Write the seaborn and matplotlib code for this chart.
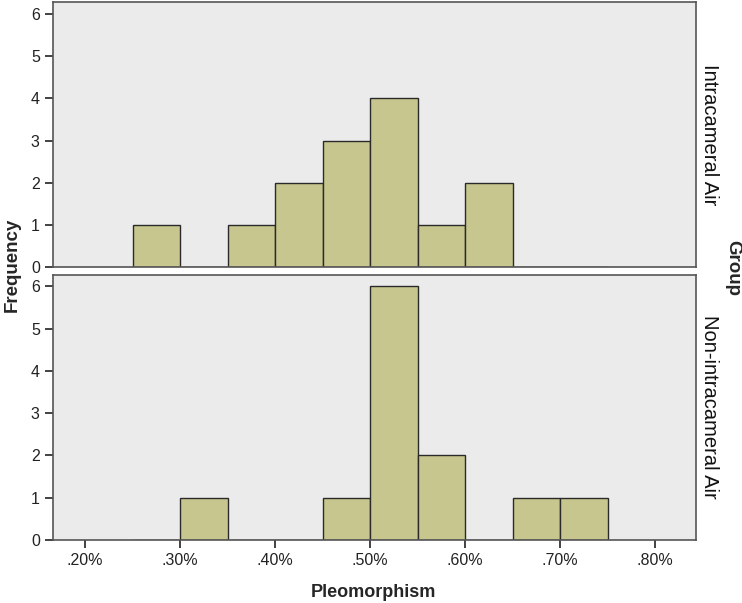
import numpy as np
import pandas as pd
import seaborn as sns
import matplotlib.pyplot as plt
from matplotlib.ticker import FuncFormatter

# histogram bins (Pleomorphism, %) and counts per group
bin_edges = [0.25, 0.30, 0.35, 0.40, 0.45, 0.50, 0.55, 0.60, 0.65, 0.70, 0.75]
counts_intra = [1, 0, 1, 2, 3, 4, 1, 2, 0, 0]
counts_non = [0, 1, 0, 0, 1, 6, 2, 0, 1, 1]
groups = ["Intracameral Air", "Non-intracameral Air"]

mids = [(a + b) / 2 for a, b in zip(bin_edges[:-1], bin_edges[1:])]
df = pd.DataFrame({
    "Pleomorphism": mids * 2,
    "count": counts_intra + counts_non,
    "Group": [groups[0]] * len(mids) + [groups[1]] * len(mids),
})

sns.set_style("ticks", {"axes.facecolor": "#ebebeb"})
plt.rcParams["font.family"] = ["Liberation Sans", "DejaVu Sans"]

g = sns.FacetGrid(df, row="Group", row_order=groups, margin_titles=True,
                  sharex=True, sharey=False, height=3, aspect=2.4)
g.map_dataframe(sns.histplot, x="Pleomorphism", weights="count", bins=bin_edges,
                color="#c6c68e", edgecolor="#2a2a2a", linewidth=1.0, alpha=1)
g.figure.set_size_inches(7.42, 6.03)
g.figure.subplots_adjust(left=0.0714, right=0.938, top=0.9967, bottom=0.1045,
                         hspace=0.027)

fmt = FuncFormatter(lambda v, p: ("%.2f" % v).lstrip("0") + "%")
for i, ax in enumerate(g.axes.flat):
    ax.set_xlim(0.1663, 0.843)
    ax.set_ylim(0, 6.28)
    ax.set_yticks(range(0, 7))
    ax.set_xticks(np.arange(0.2, 0.81, 0.1))
    ax.xaxis.set_major_formatter(fmt)
    ax.tick_params(labelsize=11.5, colors="#222222", length=6, width=1.2)
    for s in ax.spines.values():
        s.set_visible(True)
        s.set_color("#555555")
        s.set_linewidth(1.2)
    ax.set_ylabel("")
    ax.set_xlabel("")
    ax.set_title("")
    if i == 0:
        ax.tick_params(axis="x", length=0)

for t in g._margin_titles_texts:
    t.remove()
g._margin_titles_texts = []
for ax, name in zip(g.axes.flat, groups):
    ax.text(1.007, 0.5, name, transform=ax.transAxes, rotation=-90,
            ha="left", va="center", fontsize=14.5, color="#111111")

g.figure.text(0.016, 0.56, "Frequency", rotation=90, ha="center", va="center",
              fontsize=13.5, fontweight="bold")
g.figure.text(0.987, 0.556, "Group", rotation=-90, ha="center", va="center",
              fontsize=13.5, fontweight="bold")
g.figure.text(0.503, 0.018, "Pleomorphism", ha="center", va="center",
              fontsize=13, fontweight="bold")

g.figure.savefig("out.png", dpi=100)
